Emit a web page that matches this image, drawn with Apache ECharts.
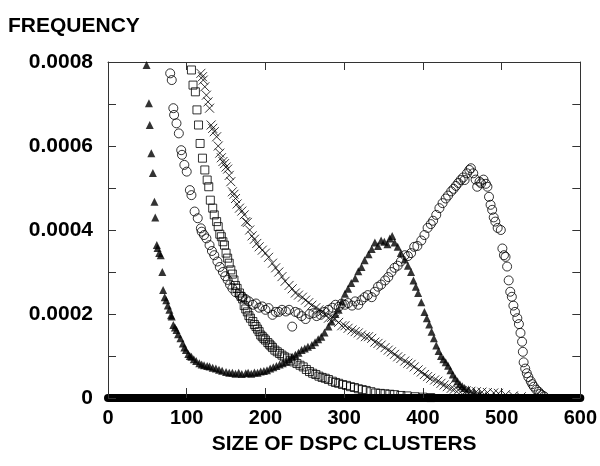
<!DOCTYPE html>
<html>
<head>
<meta charset="utf-8">
<script src="https://cdn.jsdelivr.net/npm/echarts@6/dist/echarts.min.js"></script>
<style>html,body{margin:0;padding:0;background:#fff}#c{width:600px;height:466px}</style>
</head>
<body>
<div id="c"></div>
<script>
// values: [cluster size, frequency in units of 1e-4]
const triangles = [[49,7.93],[52,7.02],[53,6.5],[55,5.83],[57,5.36],[59,4.67],[60,4.3],[62,3.64],[63,3.57],[65,3.45],[67,3.4],[69,3.0],[70,2.57],[72,2.4],[74,2.33],[76,2.2],[78,2.1],[80,1.97],[81,1.94],[83,1.74],[85,1.68],[87,1.62],[89,1.52],[92,1.42],[95,1.3],[97,1.2],[99,1.14],[102,1.05],[104,1.0],[106,0.98],[109,0.92],[112,0.88],[116,0.83],[119,0.8],[122,0.78],[126,0.76],[129,0.75],[133,0.72],[137,0.7],[141,0.67],[145,0.65],[150,0.62],[154,0.6],[158,0.6],[162,0.58],[166,0.6],[170,0.57],[175,0.59],[178,0.6],[182,0.58],[186,0.61],[190,0.6],[194,0.63],[198,0.64],[202,0.66],[206,0.7],[210,0.73],[214,0.76],[218,0.8],[222,0.83],[226,0.86],[230,0.92],[234,0.98],[238,1.03],[242,1.08],[246,1.14],[250,1.18],[254,1.22],[259,1.26],[263,1.33],[267,1.4],[271,1.46],[275,1.56],[280,1.7],[284,1.82],[289,2.0],[293,2.1],[297,2.3],[301,2.48],[305,2.6],[309,2.74],[314,2.85],[318,3.02],[322,3.12],[326,3.28],[331,3.42],[335,3.55],[339,3.7],[343,3.62],[347,3.75],[351,3.72],[355,3.66],[358,3.8],[361,3.86],[364,3.7],[368,3.6],[372,3.45],[377,3.3],[381,3.15],[385,3.0],[388,2.8],[391,2.65],[394,2.5],[398,2.28],[402,2.05],[405,1.9],[408,1.75],[411,1.58],[414,1.42],[417,1.25],[420,1.12],[423,1.0],[426,0.92],[429,0.85],[432,0.77],[435,0.66],[438,0.56],[441,0.47],[444,0.4],[447,0.33],[450,0.28],[453,0.24],[458,0.2],[465,0.15],[472,0.1],[480,0.06],[490,0.04],[500,0.02]];
const circles = [[79,7.73],[81,7.57],[83,6.9],[84,6.74],[87,6.54],[90,6.3],[93,5.9],[94,5.79],[97,5.55],[100,5.39],[104,4.95],[106,4.83],[110,4.44],[114,4.28],[118,4.04],[119,3.96],[122,3.88],[125,3.8],[129,3.64],[132,3.5],[135,3.4],[139,3.25],[142,3.12],[146,3.0],[149,2.9],[152,2.81],[155,2.7],[158,2.61],[162,2.52],[167,2.45],[171,2.4],[175,2.35],[179,2.3],[184,2.22],[188,2.25],[192,2.15],[196,2.18],[200,2.1],[204,2.14],[209,1.98],[213,2.05],[217,2.05],[221,2.1],[226,2.06],[230,2.1],[234,1.7],[238,2.05],[242,2.02],[246,1.95],[251,1.88],[256,2.0],[261,2.02],[265,1.95],[270,1.98],[275,2.05],[280,2.1],[285,2.15],[289,2.22],[293,2.17],[297,2.25],[301,2.22],[305,2.26],[310,2.2],[314,2.3],[318,2.22],[322,2.33],[326,2.4],[330,2.45],[335,2.4],[339,2.53],[343,2.65],[347,2.7],[352,2.8],[356,2.88],[360,3.0],[364,3.1],[368,3.15],[372,3.25],[377,3.4],[381,3.38],[385,3.45],[389,3.6],[393,3.62],[398,3.75],[402,3.88],[406,4.05],[410,4.14],[413,4.22],[417,4.36],[421,4.52],[425,4.64],[429,4.75],[432,4.82],[436,4.92],[439,4.98],[442,5.05],[445,5.12],[448,5.19],[451,5.25],[453,5.19],[456,5.35],[459,5.43],[461,5.47],[464,5.35],[467,5.2],[469,5.03],[472,5.15],[474,5.11],[477,5.2],[480,5.1],[482,5.03],[484,4.79],[486,4.6],[488,4.48],[490,4.3],[492,4.2],[495,4.05],[499,4.0],[501,3.56],[503,3.4],[505,3.36],[507,3.13],[509,2.8],[511,2.53],[513,2.41],[515,2.2],[517,2.05],[520,1.9],[522,1.76],[524,1.55],[526,1.34],[527,1.1],[528,0.85],[530,0.7],[532,0.59],[534,0.5],[537,0.4],[539,0.33],[541,0.27],[544,0.2],[547,0.15],[549,0.1],[551,0.07],[554,0.04]];
const squares = [[106,7.81],[108,7.45],[111,7.29],[113,6.86],[115,6.5],[117,6.06],[120,5.71],[123,5.43],[126,5.19],[128,5.03],[130,4.71],[133,4.52],[135,4.36],[138,4.2],[140,4.08],[142,3.9],[144,3.84],[146,3.72],[148,3.64],[150,3.45],[152,3.33],[154,3.21],[156,3.05],[158,2.95],[160,2.81],[162,2.68],[164,2.61],[167,2.5],[169,2.42],[171,2.36],[173,2.2],[175,2.12],[177,2.05],[179,1.96],[181,1.9],[184,1.82],[186,1.75],[188,1.7],[190,1.64],[192,1.58],[194,1.5],[196,1.46],[198,1.42],[200,1.38],[203,1.32],[205,1.28],[207,1.24],[209,1.2],[212,1.14],[215,1.1],[218,1.06],[221,1.02],[224,0.98],[228,0.95],[232,0.9],[236,0.86],[240,0.82],[244,0.78],[248,0.74],[252,0.68],[256,0.63],[260,0.59],[264,0.56],[268,0.52],[272,0.49],[276,0.47],[280,0.44],[285,0.4],[289,0.37],[293,0.35],[298,0.32],[303,0.3],[308,0.27],[313,0.25],[318,0.22],[323,0.2],[328,0.18],[334,0.15],[340,0.12],[346,0.11],[352,0.1],[358,0.09],[364,0.08],[372,0.06],[380,0.05],[390,0.03],[400,0.02],[410,0.01]];
const crosses = [[118,7.73],[120,7.65],[121,7.57],[123,7.41],[125,7.21],[127,7.05],[129,6.9],[131,6.5],[133,6.42],[135,6.34],[138,6.22],[140,6.0],[142,5.83],[144,5.72],[146,5.63],[148,5.58],[150,5.5],[152,5.45],[154,5.3],[156,5.15],[158,4.91],[160,4.85],[162,4.75],[164,4.62],[167,4.52],[170,4.45],[173,4.36],[175,4.2],[177,4.18],[180,4.0],[183,3.86],[186,3.78],[189,3.68],[192,3.6],[196,3.52],[200,3.45],[204,3.35],[209,3.21],[213,3.1],[217,3.0],[221,2.89],[225,2.78],[230,2.68],[234,2.6],[238,2.5],[242,2.45],[247,2.4],[251,2.33],[255,2.27],[259,2.21],[264,2.15],[268,2.1],[272,2.05],[276,2.0],[280,1.9],[284,1.92],[288,1.88],[293,1.8],[297,1.72],[301,1.72],[305,1.66],[310,1.62],[314,1.58],[318,1.55],[322,1.5],[327,1.46],[331,1.46],[335,1.42],[339,1.33],[343,1.3],[347,1.26],[352,1.2],[356,1.14],[360,1.1],[364,1.04],[368,0.98],[372,0.94],[377,0.88],[381,0.83],[385,0.8],[389,0.74],[394,0.67],[398,0.62],[402,0.56],[406,0.51],[410,0.47],[415,0.43],[419,0.4],[423,0.35],[427,0.31],[431,0.27],[436,0.23],[440,0.21],[445,0.19],[450,0.18],[455,0.17],[461,0.16],[468,0.15],[475,0.14],[482,0.13],[490,0.12],[496,0.11],[505,0.08],[515,0.05],[525,0.03]];
const xTicks = [0, 100, 200, 300, 400, 500, 600];
const yLabels = ['0', '0.0002', '0.0004', '0.0006', '0.0008'];

const SCALE = 1e-4;
const toPts = arr => arr.map(p => [p[0], p[1] * SCALE]);
const font = 'Liberation Sans, Arial, Helvetica, sans-serif';
const chart = echarts.init(document.getElementById('c'), null, {renderer: 'canvas'});
const hollow = {color: 'transparent', borderColor: '#000', borderWidth: 1};
chart.setOption({
  animation: false,
  backgroundColor: '#fff',
  title: {text: 'FREQUENCY', left: 3, top: 11, textStyle: {fontFamily: font, fontWeight: 'bold', fontSize: 21, color: '#000'}},
  grid: {left: 108, right: 17, top: 62, bottom: 68},
  xAxis: [{
    type: 'value', min: xTicks[0], max: xTicks[xTicks.length - 1], interval: 100,
    name: 'SIZE OF DSPC CLUSTERS', nameLocation: 'middle', nameGap: 36,
    nameTextStyle: {fontFamily: font, fontWeight: 'bold', fontSize: 21, color: '#000'},
    axisLine: {onZero: false, lineStyle: {color: '#000', width: 8}},
    axisTick: {show: true, inside: true, length: 10, lineStyle: {color: '#333'}},
    axisLabel: {margin: 10, fontFamily: font, fontWeight: 'bold', fontSize: 20, color: '#000'},
    splitLine: {show: false}
  }, {
    type: 'value', position: 'top', min: 0, max: 600, interval: 100,
    axisLine: {show: true, onZero: false, lineStyle: {color: '#333', width: 1}},
    axisTick: {show: true, inside: true, length: 8, lineStyle: {color: '#333'}},
    axisLabel: {show: false}, splitLine: {show: false}
  }],
  yAxis: [{
    type: 'value', min: 0, max: 0.0008, interval: 0.0001,
    axisLine: {show: true, onZero: false, lineStyle: {color: '#333', width: 1}},
    axisTick: {show: true, inside: true, length: 8, lineStyle: {color: '#333'}},
    axisLabel: {margin: 15, fontFamily: font, fontWeight: 'bold', fontSize: 21, color: '#000',
      formatter: v => { const k = Math.round(v / SCALE); return k % 2 === 0 ? yLabels[k / 2] : ''; }},
    splitLine: {show: false}
  }, {
    type: 'value', position: 'right', min: 0, max: 0.0008, interval: 0.0001,
    axisLine: {show: true, onZero: false, lineStyle: {color: '#333', width: 1}},
    axisTick: {show: true, inside: true, length: 8, lineStyle: {color: '#333'}},
    axisLabel: {show: false}, splitLine: {show: false}
  }],
  series: [
    {type: 'scatter', name: 'crosses', data: toPts(crosses), symbol: 'path://M0 0L10 10M10 0L0 10', symbolSize: 9, itemStyle: hollow, z: 2},
    {type: 'scatter', name: 'squares', data: toPts(squares), symbol: 'rect', symbolSize: 8, itemStyle: hollow, z: 3},
    {type: 'scatter', name: 'circles', data: toPts(circles), symbol: 'circle', symbolSize: 9, itemStyle: hollow, z: 4},
    {type: 'scatter', name: 'triangles', data: toPts(triangles), symbol: 'triangle', symbolSize: 8, itemStyle: {color: '#000'}, z: 5}
  ]
});
</script>
</body>
</html>
